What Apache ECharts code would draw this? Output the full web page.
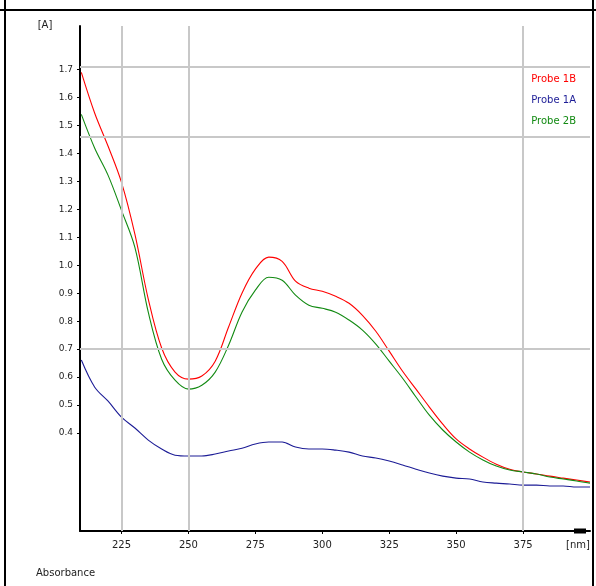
<!DOCTYPE html>
<html>
<head>
<meta charset="utf-8">
<script src="https://cdn.jsdelivr.net/npm/echarts@6/dist/echarts.min.js"></script>
<style>
  html, body { margin: 0; padding: 0; background: #fff; }
  #chart { width: 596px; height: 586px; }
</style>
</head>
<body>
<div id="chart"></div>
<script>
// Wavelength grid [nm]
const wavelengths = [210, 215, 220, 225, 230, 235, 240, 245, 250, 255, 260, 265, 270, 275, 280,
  285, 290, 295, 300, 305, 310, 315, 320, 325, 330, 335, 340, 345, 350, 355, 360, 365, 370,
  375, 380, 385, 390, 395, 400];

// Absorbance spectra
const probe1B = [1.689, 1.543, 1.425, 1.296, 1.111, 0.879, 0.704, 0.618, 0.593, 0.604, 0.657,
  0.779, 0.900, 0.986, 1.029, 1.014, 0.943, 0.918, 0.907, 0.889, 0.864, 0.821, 0.764, 0.693,
  0.621, 0.557, 0.493, 0.432, 0.379, 0.343, 0.314, 0.289, 0.271, 0.261, 0.254, 0.246, 0.239,
  0.232, 0.225];
const probe1A = [0.661, 0.564, 0.514, 0.457, 0.418, 0.375, 0.343, 0.321, 0.318, 0.318, 0.325,
  0.336, 0.346, 0.361, 0.368, 0.368, 0.350, 0.343, 0.343, 0.339, 0.332, 0.318, 0.311, 0.300,
  0.286, 0.271, 0.257, 0.246, 0.239, 0.236, 0.225, 0.221, 0.218, 0.214, 0.214, 0.211, 0.211,
  0.207, 0.207];
const probe2B = [1.539, 1.418, 1.321, 1.196, 1.064, 0.832, 0.664, 0.589, 0.557, 0.571, 0.618,
  0.714, 0.832, 0.911, 0.957, 0.946, 0.893, 0.857, 0.846, 0.832, 0.804, 0.768, 0.718, 0.657,
  0.596, 0.529, 0.464, 0.411, 0.368, 0.332, 0.304, 0.282, 0.268, 0.261, 0.254, 0.243, 0.236,
  0.229, 0.221];

// Axis ticks
const xTicks = [225, 250, 275, 300, 325, 350, 375];
const yTicks = [0.4, 0.5, 0.6, 0.7, 0.8, 0.9, 1.0, 1.1, 1.2, 1.3, 1.4, 1.5, 1.6, 1.7];

// Reference grid lines
const gridX = [225, 250, 375];
const gridY = [1.707, 1.461, 0.7];

const seriesNames = ['Probe 1B', 'Probe 1A', 'Probe 2B'];
const seriesValues = [probe1B, probe1A, probe2B];
const seriesColors = ['#ff0000', '#1c1c96', '#128a12'];

const FONT = 'DejaVu Sans';
const chart = echarts.init(document.getElementById('chart'), null, { renderer: 'canvas' });

const curves = seriesNames.map((name, i) => ({
  name,
  type: 'line',
  data: wavelengths.map((w, k) => [w, seriesValues[i][k]]),
  smooth: 0.35,
  showSymbol: false,
  z: 3,
  lineStyle: { color: seriesColors[i], width: 1.1 },
  itemStyle: { color: seriesColors[i] },
  emphasis: { disabled: true }
}));

chart.setOption({
  animation: false,
  backgroundColor: '#ffffff',
  title: {
    text: 'Absorbance',
    left: 31,
    top: 563,
    textStyle: { fontFamily: FONT, fontSize: 10, fontWeight: 'normal', color: '#222' }
  },
  legend: {
    orient: 'vertical',
    right: 10,
    top: 67,
    icon: 'none',
    itemWidth: 0,
    itemHeight: 14,
    itemGap: 9,
    align: 'right',
    selectedMode: false,
    textStyle: { fontFamily: FONT, fontSize: 10 },
    data: seriesNames.map((n, i) => ({ name: n, textStyle: { color: seriesColors[i] } }))
  },
  grid: { left: 80, right: 6, top: 26, bottom: 55, containLabel: false },
  xAxis: {
    type: 'value',
    min: 209.5,
    max: 400,
    name: '[nm]',
    nameLocation: 'end',
    nameGap: -12,
    nameTextStyle: {
      fontFamily: FONT, fontSize: 10, color: '#222',
      align: 'center', verticalAlign: 'top', padding: [9, 0, 0, 0]
    },
    axisLine: {
      lineStyle: { color: '#000', width: 2 },
      symbol: ['none', 'rect'],
      symbolSize: [5, 12],
      symbolOffset: [0, -10]
    },
    axisTick: { show: true, length: 3, customValues: xTicks, lineStyle: { color: '#000' } },
    axisLabel: {
      customValues: xTicks,
      fontFamily: FONT, fontSize: 10, color: '#222', margin: 9
    },
    splitLine: { show: false }
  },
  yAxis: {
    type: 'value',
    min: 0.05,
    max: 1.855,
    name: '[A]',
    nameLocation: 'end',
    nameGap: -4,
    nameTextStyle: {
      fontFamily: FONT, fontSize: 10, color: '#222',
      align: 'center', padding: [0, 70, 0, 0]
    },
    axisLine: {
      show: true,
      lineStyle: { color: '#000', width: 2 }
    },
    axisTick: { show: true, length: 3, customValues: yTicks, lineStyle: { color: '#000' } },
    axisLabel: {
      customValues: yTicks,
      formatter: v => v.toFixed(1),
      fontFamily: FONT, fontSize: 9, color: '#222', margin: 7
    },
    splitLine: { show: false }
  },
  graphic: [
    // frame around the chart cell
    { type: 'line', shape: { x1: 0, y1: 10, x2: 596, y2: 10 }, style: { stroke: '#000', lineWidth: 2 }, silent: true },
    { type: 'line', shape: { x1: 5, y1: 0, x2: 5, y2: 586 }, style: { stroke: '#000', lineWidth: 2 }, silent: true },
    { type: 'line', shape: { x1: 593, y1: 0, x2: 593, y2: 586 }, style: { stroke: '#000', lineWidth: 2 }, silent: true }
  ],
  series: [
    {
      name: 'grid',
      type: 'line',
      data: [],
      z: 1,
      silent: true,
      markLine: {
        silent: true,
        symbol: 'none',
        label: { show: false },
        lineStyle: { color: '#c8c8c8', width: 2, type: 'solid' },
        data: gridX.map(v => ({ xAxis: v })).concat(gridY.map(v => ({ yAxis: v })))
      }
    }
  ].concat(curves)
});
</script>
</body>
</html>
